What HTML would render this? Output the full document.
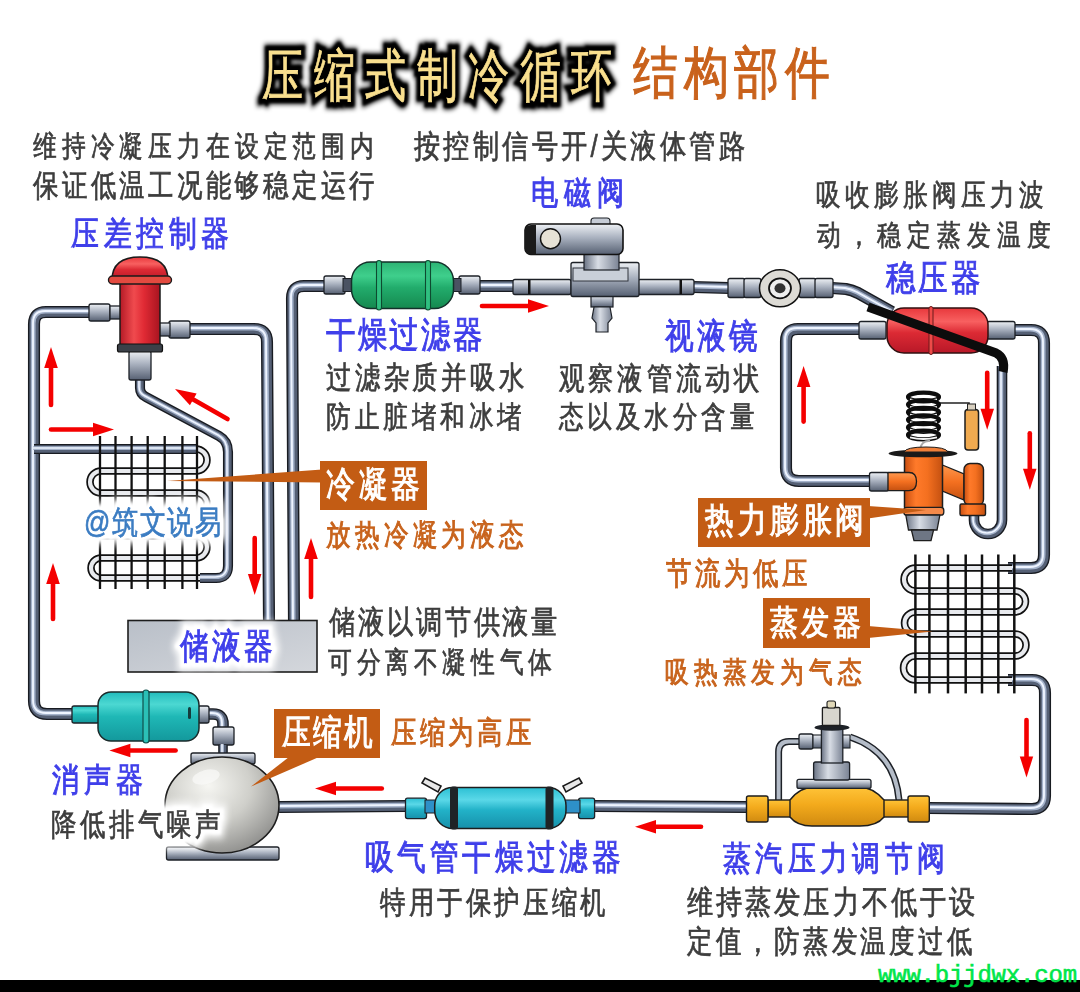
<!DOCTYPE html>
<html><head><meta charset="utf-8"><style>
html,body{margin:0;padding:0;background:#fff;width:1080px;height:992px;overflow:hidden;position:relative}
.t{position:absolute;white-space:nowrap;line-height:1;font-family:"Liberation Sans",sans-serif;transform-origin:0 0}
svg{position:absolute;left:0;top:0}
.lb{position:absolute;background:#c35c14}
</style></head><body>
<svg width="1080" height="992" viewBox="0 0 1080 992"><defs>
<linearGradient id="gMetal" x1="0" y1="0" x2="0" y2="1"><stop offset="0" stop-color="#eef1f5"/><stop offset="0.45" stop-color="#a9b1bf"/><stop offset="1" stop-color="#566072"/></linearGradient>
<linearGradient id="gMetalH" x1="0" y1="0" x2="1" y2="0"><stop offset="0" stop-color="#6a7384"/><stop offset="0.4" stop-color="#d8dde5"/><stop offset="1" stop-color="#7a8394"/></linearGradient>
<linearGradient id="gGreen" x1="0" y1="0" x2="0" y2="1"><stop offset="0" stop-color="#2cb474"/><stop offset="0.3" stop-color="#3fcf8c"/><stop offset="0.55" stop-color="#22ac6c"/><stop offset="1" stop-color="#15894f"/></linearGradient>
<linearGradient id="gRed" x1="0" y1="0" x2="0" y2="1"><stop offset="0" stop-color="#e8383c"/><stop offset="0.3" stop-color="#f86060"/><stop offset="0.55" stop-color="#dc2a34"/><stop offset="1" stop-color="#b81828"/></linearGradient>
<linearGradient id="gRedH" x1="0" y1="0" x2="1" y2="0"><stop offset="0" stop-color="#b41a26"/><stop offset="0.35" stop-color="#f04a4e"/><stop offset="0.6" stop-color="#e02a34"/><stop offset="1" stop-color="#a81420"/></linearGradient>
<linearGradient id="gTeal" x1="0" y1="0" x2="0" y2="1"><stop offset="0" stop-color="#22bcbc"/><stop offset="0.25" stop-color="#4cd8d2"/><stop offset="0.5" stop-color="#1fb8b6"/><stop offset="1" stop-color="#13989c"/></linearGradient>
<linearGradient id="gCyan" x1="0" y1="0" x2="0" y2="1"><stop offset="0" stop-color="#2cc0d4"/><stop offset="0.3" stop-color="#5ad8e8"/><stop offset="0.55" stop-color="#22b2c8"/><stop offset="1" stop-color="#1790aa"/></linearGradient>
<linearGradient id="gOrange" x1="0" y1="0" x2="1" y2="0"><stop offset="0" stop-color="#c84e10"/><stop offset="0.3" stop-color="#ff7a2a"/><stop offset="0.6" stop-color="#f47020"/><stop offset="1" stop-color="#c45010"/></linearGradient>
<linearGradient id="gOrangeV" x1="0" y1="0" x2="0" y2="1"><stop offset="0" stop-color="#ff9a50"/><stop offset="0.5" stop-color="#f47020"/><stop offset="1" stop-color="#c45010"/></linearGradient>
<linearGradient id="gYellow" x1="0" y1="0" x2="0" y2="1"><stop offset="0" stop-color="#ffc438"/><stop offset="0.45" stop-color="#f3aa1c"/><stop offset="1" stop-color="#d08a10"/></linearGradient>
<radialGradient id="gSphere" cx="0.38" cy="0.3" r="0.75"><stop offset="0" stop-color="#f6f6f2"/><stop offset="0.5" stop-color="#cfcfca"/><stop offset="1" stop-color="#8e8e8c"/></radialGradient>
<linearGradient id="gBox" x1="0" y1="0" x2="1" y2="1"><stop offset="0" stop-color="#b9bfc8"/><stop offset="1" stop-color="#d4d7dc"/></linearGradient>
</defs><path d="M90,312 L46,312 Q34,312 34,324 L34,701 Q34,714 47,714 L73,714" fill="none" stroke="#181b21" stroke-width="12.1" stroke-linecap="butt" stroke-linejoin="round"/><path d="M90,312 L46,312 Q34,312 34,324 L34,701 Q34,714 47,714 L73,714" fill="none" stroke="#556075" stroke-width="9.3" stroke-linejoin="round"/><path d="M90,312 L46,312 Q34,312 34,324 L34,701 Q34,714 47,714 L73,714" fill="none" stroke="#a4b2ca" stroke-width="4.7250000000000005" stroke-linejoin="round" transform="translate(-0.8,-0.8)"/><path d="M90,312 L46,312 Q34,312 34,324 L34,701 Q34,714 47,714 L73,714" fill="none" stroke="#eef4ff" stroke-width="1.89" stroke-linejoin="round" transform="translate(-1,-1)"/><path d="M34,449 L198,449" fill="none" stroke="#181b21" stroke-width="10.1" stroke-linecap="butt" stroke-linejoin="round"/><path d="M34,449 L198,449" fill="none" stroke="#556075" stroke-width="7.3" stroke-linejoin="round"/><path d="M34,449 L198,449" fill="none" stroke="#a4b2ca" stroke-width="3.825" stroke-linejoin="round" transform="translate(-0.8,-0.8)"/><path d="M34,449 L198,449" fill="none" stroke="#eef4ff" stroke-width="1.53" stroke-linejoin="round" transform="translate(-1,-1)"/><path d="M189,329 L254,329 Q267,329 267,342 L269,621" fill="none" stroke="#181b21" stroke-width="12.1" stroke-linecap="butt" stroke-linejoin="round"/><path d="M189,329 L254,329 Q267,329 267,342 L269,621" fill="none" stroke="#556075" stroke-width="9.3" stroke-linejoin="round"/><path d="M189,329 L254,329 Q267,329 267,342 L269,621" fill="none" stroke="#a4b2ca" stroke-width="4.7250000000000005" stroke-linejoin="round" transform="translate(-0.8,-0.8)"/><path d="M189,329 L254,329 Q267,329 267,342 L269,621" fill="none" stroke="#eef4ff" stroke-width="1.89" stroke-linejoin="round" transform="translate(-1,-1)"/><path d="M294,621 L292,298 Q292,286 304,286 L325,286" fill="none" stroke="#181b21" stroke-width="12.1" stroke-linecap="butt" stroke-linejoin="round"/><path d="M294,621 L292,298 Q292,286 304,286 L325,286" fill="none" stroke="#556075" stroke-width="9.3" stroke-linejoin="round"/><path d="M294,621 L292,298 Q292,286 304,286 L325,286" fill="none" stroke="#a4b2ca" stroke-width="4.7250000000000005" stroke-linejoin="round" transform="translate(-0.8,-0.8)"/><path d="M294,621 L292,298 Q292,286 304,286 L325,286" fill="none" stroke="#eef4ff" stroke-width="1.89" stroke-linejoin="round" transform="translate(-1,-1)"/><path d="M479,286 L514,286" fill="none" stroke="#181b21" stroke-width="12.1" stroke-linecap="butt" stroke-linejoin="round"/><path d="M479,286 L514,286" fill="none" stroke="#556075" stroke-width="9.3" stroke-linejoin="round"/><path d="M479,286 L514,286" fill="none" stroke="#a4b2ca" stroke-width="4.7250000000000005" stroke-linejoin="round" transform="translate(-0.8,-0.8)"/><path d="M479,286 L514,286" fill="none" stroke="#eef4ff" stroke-width="1.89" stroke-linejoin="round" transform="translate(-1,-1)"/><path d="M693,287 L729,288" fill="none" stroke="#181b21" stroke-width="12.1" stroke-linecap="butt" stroke-linejoin="round"/><path d="M693,287 L729,288" fill="none" stroke="#556075" stroke-width="9.3" stroke-linejoin="round"/><path d="M693,287 L729,288" fill="none" stroke="#a4b2ca" stroke-width="4.7250000000000005" stroke-linejoin="round" transform="translate(-0.8,-0.8)"/><path d="M693,287 L729,288" fill="none" stroke="#eef4ff" stroke-width="1.89" stroke-linejoin="round" transform="translate(-1,-1)"/><path d="M832,288 L846,289 Q852,290 858,293 L892,312" fill="none" stroke="#181b21" stroke-width="12.1" stroke-linecap="butt" stroke-linejoin="round"/><path d="M832,288 L846,289 Q852,290 858,293 L892,312" fill="none" stroke="#556075" stroke-width="9.3" stroke-linejoin="round"/><path d="M832,288 L846,289 Q852,290 858,293 L892,312" fill="none" stroke="#a4b2ca" stroke-width="4.7250000000000005" stroke-linejoin="round" transform="translate(-0.8,-0.8)"/><path d="M832,288 L846,289 Q852,290 858,293 L892,312" fill="none" stroke="#eef4ff" stroke-width="1.89" stroke-linejoin="round" transform="translate(-1,-1)"/><path d="M860,329 L798,329 Q786,329 786,341 L786,468 Q786,481 799,481 L871,481" fill="none" stroke="#181b21" stroke-width="12.1" stroke-linecap="butt" stroke-linejoin="round"/><path d="M860,329 L798,329 Q786,329 786,341 L786,468 Q786,481 799,481 L871,481" fill="none" stroke="#556075" stroke-width="9.3" stroke-linejoin="round"/><path d="M860,329 L798,329 Q786,329 786,341 L786,468 Q786,481 799,481 L871,481" fill="none" stroke="#a4b2ca" stroke-width="4.7250000000000005" stroke-linejoin="round" transform="translate(-0.8,-0.8)"/><path d="M860,329 L798,329 Q786,329 786,341 L786,468 Q786,481 799,481 L871,481" fill="none" stroke="#eef4ff" stroke-width="1.89" stroke-linejoin="round" transform="translate(-1,-1)"/><path d="M1014,330 L1031,330 Q1044,330 1044,343 L1044,555 Q1044,568 1031,568 L1008,568" fill="none" stroke="#181b21" stroke-width="12.1" stroke-linecap="butt" stroke-linejoin="round"/><path d="M1014,330 L1031,330 Q1044,330 1044,343 L1044,555 Q1044,568 1031,568 L1008,568" fill="none" stroke="#556075" stroke-width="9.3" stroke-linejoin="round"/><path d="M1014,330 L1031,330 Q1044,330 1044,343 L1044,555 Q1044,568 1031,568 L1008,568" fill="none" stroke="#a4b2ca" stroke-width="4.7250000000000005" stroke-linejoin="round" transform="translate(-0.8,-0.8)"/><path d="M1014,330 L1031,330 Q1044,330 1044,343 L1044,555 Q1044,568 1031,568 L1008,568" fill="none" stroke="#eef4ff" stroke-width="1.89" stroke-linejoin="round" transform="translate(-1,-1)"/><path d="M1008,680 L1032,680 Q1045,680 1045,693 L1045,796 Q1045,809 1032,809 L928,808" fill="none" stroke="#181b21" stroke-width="12.1" stroke-linecap="butt" stroke-linejoin="round"/><path d="M1008,680 L1032,680 Q1045,680 1045,693 L1045,796 Q1045,809 1032,809 L928,808" fill="none" stroke="#556075" stroke-width="9.3" stroke-linejoin="round"/><path d="M1008,680 L1032,680 Q1045,680 1045,693 L1045,796 Q1045,809 1032,809 L928,808" fill="none" stroke="#a4b2ca" stroke-width="4.7250000000000005" stroke-linejoin="round" transform="translate(-0.8,-0.8)"/><path d="M1008,680 L1032,680 Q1045,680 1045,693 L1045,796 Q1045,809 1032,809 L928,808" fill="none" stroke="#eef4ff" stroke-width="1.89" stroke-linejoin="round" transform="translate(-1,-1)"/><path d="M747,807 L593,806" fill="none" stroke="#181b21" stroke-width="12.1" stroke-linecap="butt" stroke-linejoin="round"/><path d="M747,807 L593,806" fill="none" stroke="#556075" stroke-width="9.3" stroke-linejoin="round"/><path d="M747,807 L593,806" fill="none" stroke="#a4b2ca" stroke-width="4.7250000000000005" stroke-linejoin="round" transform="translate(-0.8,-0.8)"/><path d="M747,807 L593,806" fill="none" stroke="#eef4ff" stroke-width="1.89" stroke-linejoin="round" transform="translate(-1,-1)"/><path d="M406,806 L279,807" fill="none" stroke="#181b21" stroke-width="12.1" stroke-linecap="butt" stroke-linejoin="round"/><path d="M406,806 L279,807" fill="none" stroke="#556075" stroke-width="9.3" stroke-linejoin="round"/><path d="M406,806 L279,807" fill="none" stroke="#a4b2ca" stroke-width="4.7250000000000005" stroke-linejoin="round" transform="translate(-0.8,-0.8)"/><path d="M406,806 L279,807" fill="none" stroke="#eef4ff" stroke-width="1.89" stroke-linejoin="round" transform="translate(-1,-1)"/><path d="M140,379 L140,388 Q140,394 146,397 L219,436 Q228,441 228,452 L228,566 Q228,578 216,578 L200,578" fill="none" stroke="#181b21" stroke-width="10.1" stroke-linecap="butt" stroke-linejoin="round"/><path d="M140,379 L140,388 Q140,394 146,397 L219,436 Q228,441 228,452 L228,566 Q228,578 216,578 L200,578" fill="none" stroke="#556075" stroke-width="7.3" stroke-linejoin="round"/><path d="M140,379 L140,388 Q140,394 146,397 L219,436 Q228,441 228,452 L228,566 Q228,578 216,578 L200,578" fill="none" stroke="#a4b2ca" stroke-width="3.825" stroke-linejoin="round" transform="translate(-0.8,-0.8)"/><path d="M140,379 L140,388 Q140,394 146,397 L219,436 Q228,441 228,452 L228,566 Q228,578 216,578 L200,578" fill="none" stroke="#eef4ff" stroke-width="1.53" stroke-linejoin="round" transform="translate(-1,-1)"/><path d="M974,514 L974,520 A14,14 0 0 0 1002,520 L1002,366" fill="none" stroke="#181b21" stroke-width="10.6" stroke-linecap="butt" stroke-linejoin="round"/><path d="M974,514 L974,520 A14,14 0 0 0 1002,520 L1002,366" fill="none" stroke="#556075" stroke-width="7.8" stroke-linejoin="round"/><path d="M974,514 L974,520 A14,14 0 0 0 1002,520 L1002,366" fill="none" stroke="#a4b2ca" stroke-width="4.05" stroke-linejoin="round" transform="translate(-0.8,-0.8)"/><path d="M974,514 L974,520 A14,14 0 0 0 1002,520 L1002,366" fill="none" stroke="#eef4ff" stroke-width="1.6199999999999999" stroke-linejoin="round" transform="translate(-1,-1)"/><path d="M207,714 L213,714 Q223,714 223,724 L223,730" fill="none" stroke="#181b21" stroke-width="11.6" stroke-linecap="butt" stroke-linejoin="round"/><path d="M207,714 L213,714 Q223,714 223,724 L223,730" fill="none" stroke="#556075" stroke-width="8.8" stroke-linejoin="round"/><path d="M207,714 L213,714 Q223,714 223,724 L223,730" fill="none" stroke="#a4b2ca" stroke-width="4.5" stroke-linejoin="round" transform="translate(-0.8,-0.8)"/><path d="M207,714 L213,714 Q223,714 223,724 L223,730" fill="none" stroke="#eef4ff" stroke-width="1.7999999999999998" stroke-linejoin="round" transform="translate(-1,-1)"/><rect x="213" y="727" width="21" height="18" rx="2" fill="url(#gMetal)" stroke="#1d2127" stroke-width="1.3"/><path d="M223,745 L223,755" fill="none" stroke="#181b21" stroke-width="9.6" stroke-linecap="butt" stroke-linejoin="round"/><path d="M223,745 L223,755" fill="none" stroke="#556075" stroke-width="6.8" stroke-linejoin="round"/><path d="M223,745 L223,755" fill="none" stroke="#a4b2ca" stroke-width="3.6" stroke-linejoin="round" transform="translate(-0.8,-0.8)"/><path d="M223,745 L223,755" fill="none" stroke="#eef4ff" stroke-width="1.44" stroke-linejoin="round" transform="translate(-1,-1)"/><path d="M196,449 A11,11 0 0 1 196,471 L101,471 A11,11 0 0 0 101,493 L196,493 A11,11 0 0 1 196,515 L101,515 A10.5,10.5 0 0 0 101,536 L196,536 A11,11 0 0 1 196,558 L101,558 A10,10 0 0 0 101,578 L200,578" fill="none" stroke="#111" stroke-width="7.5" stroke-linejoin="round"/><path d="M196,449 A11,11 0 0 1 196,471 L101,471 A11,11 0 0 0 101,493 L196,493 A11,11 0 0 1 196,515 L101,515 A10.5,10.5 0 0 0 101,536 L196,536 A11,11 0 0 1 196,558 L101,558 A10,10 0 0 0 101,578 L200,578" fill="none" stroke="#e8eaee" stroke-width="4.1" stroke-linejoin="round"/><line x1="100" y1="436" x2="100" y2="589" stroke="#111" stroke-width="2.3"/><line x1="115.5" y1="436" x2="115.5" y2="589" stroke="#111" stroke-width="2.3"/><line x1="131.6" y1="436" x2="131.6" y2="589" stroke="#111" stroke-width="2.3"/><line x1="147.7" y1="436" x2="147.7" y2="589" stroke="#111" stroke-width="2.3"/><line x1="164.7" y1="436" x2="164.7" y2="589" stroke="#111" stroke-width="2.3"/><line x1="182.4" y1="436" x2="182.4" y2="589" stroke="#111" stroke-width="2.3"/><line x1="197" y1="436" x2="197" y2="589" stroke="#111" stroke-width="2.3"/><rect x="128" y="620.5" width="189" height="51.5" fill="url(#gBox)" stroke="#1d1d1d" stroke-width="1.6"/><rect x="89" y="304" width="21" height="17" rx="2" fill="url(#gMetal)" stroke="#1d2127" stroke-width="1.3"/><rect x="169" y="321" width="21" height="17" rx="2" fill="url(#gMetal)" stroke="#1d2127" stroke-width="1.3"/><rect x="110" y="306" width="12" height="13" rx="0" fill="url(#gMetal)" stroke="#1d2127" stroke-width="1.3"/><rect x="158" y="323" width="12" height="13" rx="0" fill="url(#gMetal)" stroke="#1d2127" stroke-width="1.3"/><rect x="129" y="351" width="22" height="29" rx="2" fill="url(#gMetal)" stroke="#1d2127" stroke-width="1.3"/><rect x="120" y="281" width="40" height="68" fill="url(#gRedH)" stroke="#1a1a1a" stroke-width="1.5"/><rect x="117.5" y="344" width="45" height="8" rx="2" fill="#3b4048" stroke="#111" stroke-width="1.2"/><path d="M112,280 Q112,257 140,257 Q168,257 168,280 Z" fill="url(#gRed)" stroke="#1a1a1a" stroke-width="1.5"/><rect x="108.5" y="276" width="63" height="8" rx="4" fill="#e34a40" stroke="#1a1a1a" stroke-width="1.4"/><rect x="72" y="706" width="27" height="17" rx="2" fill="url(#gTeal)" stroke="#1d2127" stroke-width="1.3"/><rect x="198" y="706" width="11" height="17" rx="2" fill="url(#gMetal)" stroke="#1d2127" stroke-width="1.3"/><rect x="98" y="692" width="101" height="49" rx="13" fill="url(#gTeal)" stroke="#1a2a2a" stroke-width="1.5"/><rect x="143" y="690" width="6" height="53" rx="3" fill="#2bc0b6" stroke="#10504c" stroke-width="1.2"/><rect x="188" y="707" width="3" height="12" rx="1.5" fill="#153c3c"/><rect x="191" y="753" width="64" height="11" rx="2" fill="url(#gMetal)" stroke="#1d2127" stroke-width="1.3"/><rect x="166.5" y="847" width="112.5" height="13" rx="2" fill="url(#gMetal)" stroke="#1d2127" stroke-width="1.3"/><ellipse cx="222" cy="805" rx="57" ry="48" fill="url(#gSphere)" stroke="#1d1d1d" stroke-width="1.6"/><ellipse cx="206" cy="777" rx="14" ry="7" fill="#fafaf8" opacity="0.7" transform="rotate(-15 206 777)"/><rect x="324" y="276" width="21" height="18" rx="2" fill="url(#gMetal)" stroke="#1d2127" stroke-width="1.3"/><rect x="459" y="276" width="21" height="18" rx="2" fill="url(#gMetal)" stroke="#1d2127" stroke-width="1.3"/><rect x="343" y="278.5" width="10" height="13" fill="#4a5262" stroke="#1d2127" stroke-width="1"/><rect x="451" y="278.5" width="10" height="13" fill="#4a5262" stroke="#1d2127" stroke-width="1"/><rect x="351.5" y="262" width="102" height="46.5" rx="19" fill="url(#gGreen)" stroke="#14302a" stroke-width="1.5"/><rect x="376.5" y="260.5" width="5" height="49.5" rx="2.5" fill="#30c080" stroke="#0e4a30" stroke-width="1.1"/><rect x="425.5" y="260.5" width="5" height="49.5" rx="2.5" fill="#30c080" stroke="#0e4a30" stroke-width="1.1"/><rect x="513" y="279.5" width="58" height="15" rx="2" fill="url(#gMetal)" stroke="#1d2127" stroke-width="1.3"/><rect x="638" y="279.5" width="56" height="15" rx="2" fill="url(#gMetal)" stroke="#1d2127" stroke-width="1.3"/><rect x="528" y="280" width="2.5" height="14" fill="#111"/><rect x="679.5" y="280" width="2.5" height="14" fill="#111"/><rect x="591" y="295" width="22" height="12" fill="url(#gMetal)" stroke="#1d2127" stroke-width="1.2"/><path d="M594,307 L610,307 L612,318 L608,323 L608,332 L596,332 L596,323 L592,318 Z" fill="url(#gMetalH)" stroke="#1d2127" stroke-width="1.2"/><rect x="571" y="262.5" width="68" height="34" rx="2" fill="url(#gMetal)" stroke="#1d2127" stroke-width="1.3"/><rect x="573" y="268" width="55" height="13" fill="#c9cfd8" stroke="#30353d" stroke-width="1"/><rect x="584" y="250" width="35" height="20" fill="url(#gMetalH)" stroke="#1d2127" stroke-width="1.2"/><rect x="591" y="218" width="19" height="9" rx="3" fill="#c6ccd6" stroke="#1d2127" stroke-width="1.1"/><rect x="525" y="224" width="98" height="30.5" rx="6" fill="url(#gMetal)" stroke="#111" stroke-width="1.6"/><path d="M531,225 Q525,225 525,231 L525,248 Q525,254.5 531,254.5 L536,254.5 L536,225 Z" fill="#1a1a1a"/><circle cx="550.5" cy="238.7" r="10" fill="#e6e2d6" stroke="#111" stroke-width="1.4"/><rect x="728" y="278.5" width="17" height="19" rx="2" fill="url(#gMetal)" stroke="#1d2127" stroke-width="1.3"/><rect x="744" y="278.5" width="17" height="19" rx="2" fill="url(#gMetal)" stroke="#1d2127" stroke-width="1.3"/><rect x="799" y="278.5" width="17" height="19" rx="2" fill="url(#gMetal)" stroke="#1d2127" stroke-width="1.3"/><rect x="815" y="278.5" width="18" height="19" rx="2" fill="url(#gMetal)" stroke="#1d2127" stroke-width="1.3"/><ellipse cx="780" cy="288.3" rx="20.5" ry="18.5" fill="#dddbd5" stroke="#111" stroke-width="1.5"/><ellipse cx="780" cy="288.3" rx="11" ry="10" fill="#eee" stroke="#111" stroke-width="1.8"/><ellipse cx="780" cy="288.3" rx="5.5" ry="5" fill="#333"/><rect x="859" y="321.5" width="27" height="17.5" rx="2" fill="url(#gMetal)" stroke="#1d2127" stroke-width="1.3"/><rect x="987" y="321.5" width="28" height="17.5" rx="2" fill="url(#gMetal)" stroke="#1d2127" stroke-width="1.3"/><rect x="887" y="308" width="101" height="45" rx="17" fill="url(#gRed)" stroke="#301010" stroke-width="1.5"/><rect x="929" y="306.5" width="4" height="48" rx="2" fill="#ee4a48" stroke="#6a1a1a" stroke-width="1"/><path d="M868,307 L996,353 Q1006,358 1003,372" fill="none" stroke="#0c0c0c" stroke-width="9" stroke-linecap="butt"/><path d="M937,403 L969,403 L969,410" fill="none" stroke="#222" stroke-width="1.6"/><rect x="965" y="409.5" width="13.5" height="40.5" rx="3" fill="#f0aa50" stroke="#1d1d1d" stroke-width="1.5"/><rect x="967.5" y="404" width="8" height="6" fill="#d8d0c0" stroke="#222" stroke-width="1"/><ellipse cx="923.5" cy="397.0" rx="15.5" ry="4.4" fill="none" stroke="#0d0d0d" stroke-width="4.2"/><path d="M910,399.4 Q923.5,402.6 937,399.4" fill="none" stroke="#f4f4f4" stroke-width="2"/><ellipse cx="923.5" cy="404.6" rx="15.5" ry="4.4" fill="none" stroke="#0d0d0d" stroke-width="4.2"/><path d="M910,407.0 Q923.5,410.20000000000005 937,407.0" fill="none" stroke="#f4f4f4" stroke-width="2"/><ellipse cx="923.5" cy="412.2" rx="15.5" ry="4.4" fill="none" stroke="#0d0d0d" stroke-width="4.2"/><path d="M910,414.59999999999997 Q923.5,417.8 937,414.59999999999997" fill="none" stroke="#f4f4f4" stroke-width="2"/><ellipse cx="923.5" cy="419.8" rx="15.5" ry="4.4" fill="none" stroke="#0d0d0d" stroke-width="4.2"/><path d="M910,422.2 Q923.5,425.40000000000003 937,422.2" fill="none" stroke="#f4f4f4" stroke-width="2"/><ellipse cx="923.5" cy="427.4" rx="15.5" ry="4.4" fill="none" stroke="#0d0d0d" stroke-width="4.2"/><path d="M910,429.79999999999995 Q923.5,433.0 937,429.79999999999995" fill="none" stroke="#f4f4f4" stroke-width="2"/><ellipse cx="923.5" cy="435.0" rx="15.5" ry="4.4" fill="none" stroke="#0d0d0d" stroke-width="4.2"/><path d="M910,437.4 Q923.5,440.6 937,437.4" fill="none" stroke="#f4f4f4" stroke-width="2"/><path d="M920,449 Q922,440 930,441" fill="none" stroke="#aaa" stroke-width="2"/><rect x="869.5" y="472.5" width="19" height="18.5" rx="2" fill="url(#gMetal)" stroke="#1d2127" stroke-width="1.3"/><path d="M940,464 L964,474 L964,500 L940,490 Z" fill="url(#gOrangeV)" stroke="#1d1d1d" stroke-width="1.3"/><rect x="964" y="463.5" width="19.5" height="42" rx="6" fill="url(#gOrange)" stroke="#1d1d1d" stroke-width="1.4"/><rect x="960" y="504" width="25.5" height="11.5" rx="1.5" fill="url(#gOrange)" stroke="#1d1d1d" stroke-width="1.4"/><rect x="904.5" y="455" width="38" height="54" rx="2" fill="url(#gOrange)" stroke="#1d1d1d" stroke-width="1.5"/><rect x="903.8" y="507.4" width="40" height="7.8" rx="3" fill="#f58a4a" stroke="#1d1d1d" stroke-width="1.3"/><path d="M905.8,515 L939.9,515 L937,530 L908.5,530 Z" fill="url(#gMetalH)" stroke="#1d1d1d" stroke-width="1.3"/><path d="M911.4,530 L933.6,530 L931,540.7 L914,540.7 Z" fill="#6e7684" stroke="#1d1d1d" stroke-width="1.3"/><ellipse cx="923" cy="453.5" rx="34.5" ry="3.8" fill="#1a1a1a"/><path d="M888,472.5 L909,472.5 Q916.5,472.5 916.5,481.5 Q916.5,490.7 909,490.7 L888,490.7 Z" fill="url(#gOrangeV)" stroke="#1d1d1d" stroke-width="1.3"/><path d="M904,452 Q906,447 926,447 Q946,447 948,452 Z" fill="#f0803a" stroke="#1d1d1d" stroke-width="1"/><path d="M1012,568 L915.5,568 A11.5,11.5 0 0 0 915.5,591 L1015,591 A10.5,10.5 0 0 1 1015,612 L915.5,612 A11,11 0 0 0 915.5,634 L1015,634 A11,11 0 0 1 1015,656 L915.5,656 A12,12 0 0 0 915.5,680 L1012,680" fill="none" stroke="#111" stroke-width="7.5" stroke-linejoin="round"/><path d="M1012,568 L915.5,568 A11.5,11.5 0 0 0 915.5,591 L1015,591 A10.5,10.5 0 0 1 1015,612 L915.5,612 A11,11 0 0 0 915.5,634 L1015,634 A11,11 0 0 1 1015,656 L915.5,656 A12,12 0 0 0 915.5,680 L1012,680" fill="none" stroke="#e8eaee" stroke-width="4.1" stroke-linejoin="round"/><line x1="915.4" y1="554.5" x2="915.4" y2="693.4" stroke="#111" stroke-width="2.5"/><line x1="929.4" y1="554.5" x2="929.4" y2="693.4" stroke="#111" stroke-width="2.5"/><line x1="948" y1="554.5" x2="948" y2="693.4" stroke="#111" stroke-width="2.5"/><line x1="965.7" y1="554.5" x2="965.7" y2="693.4" stroke="#111" stroke-width="2.5"/><line x1="982" y1="554.5" x2="982" y2="693.4" stroke="#111" stroke-width="2.5"/><line x1="998.3" y1="554.5" x2="998.3" y2="693.4" stroke="#111" stroke-width="2.5"/><line x1="1014.3" y1="554.5" x2="1014.3" y2="693.4" stroke="#111" stroke-width="2.5"/><path d="M778.6,800 L778.6,752 Q778.6,741.5 789,741.5 L800,741.5" fill="none" stroke="#1d2127" stroke-width="7"/><path d="M778.6,800 L778.6,752 Q778.6,741.5 789,741.5 L800,741.5" fill="none" stroke="#b4bcc8" stroke-width="4"/><path d="M850,737 Q895,752 899,800" fill="none" stroke="#1d2127" stroke-width="7"/><path d="M850,737 Q895,752 899,800" fill="none" stroke="#b4bcc8" stroke-width="4"/><rect x="799" y="734" width="14" height="15" rx="2" fill="url(#gMetal)" stroke="#1d2127" stroke-width="1.3"/><rect x="813" y="735" width="37" height="13" fill="url(#gMetal)" stroke="#1d2127" stroke-width="1.1"/><rect x="768" y="800" width="144" height="17" fill="url(#gYellow)" stroke="#1d1d1d" stroke-width="1.4"/><path d="M790,800 Q800,787 815,787 L858,787 Q873,787 884,800 L884,817 Q877,826 860,826 L812,826 Q797,826 790,817 Z" fill="url(#gYellow)" stroke="#1d1d1d" stroke-width="1.4"/><rect x="746.5" y="796" width="21.5" height="26" rx="2" fill="url(#gYellow)" stroke="#1d1d1d" stroke-width="1.4"/><rect x="908" y="796" width="21.3" height="26" rx="2" fill="url(#gYellow)" stroke="#1d1d1d" stroke-width="1.4"/><rect x="797" y="779.4" width="74" height="9" rx="2" fill="url(#gMetal)" stroke="#1d2127" stroke-width="1.3"/><rect x="813.6" y="762" width="36" height="18" rx="2" fill="url(#gMetalH)" stroke="#1d2127" stroke-width="1.3"/><rect x="821.4" y="729" width="21.4" height="34" fill="url(#gMetalH)" stroke="#1d2127" stroke-width="1.3"/><ellipse cx="832" cy="727.5" rx="17.5" ry="3.2" fill="#1d2127"/><rect x="822.4" y="707.5" width="17.5" height="18" rx="1" fill="#d8d6ce" stroke="#1d1d1d" stroke-width="1.3"/><rect x="827" y="701" width="8.5" height="7" rx="2" fill="#e0d8b8" stroke="#1d1d1d" stroke-width="1.1"/><rect x="405.5" y="798.2" width="21" height="20.4" rx="2" fill="url(#gCyan)" stroke="#1d2127" stroke-width="1.3"/><rect x="578.6" y="798.2" width="16" height="20.4" rx="2" fill="url(#gCyan)" stroke="#1d2127" stroke-width="1.3"/><rect x="425" y="800" width="12" height="13" fill="#2e90c8" stroke="#1d1d1d" stroke-width="1"/><rect x="564" y="800" width="16" height="13" fill="#2e90c8" stroke="#1d1d1d" stroke-width="1"/><path d="M422,783 L425,778 L441,786 L438,792 Z" fill="#e8e8e8" stroke="#1a1a1a" stroke-width="1.6"/><path d="M579,778 L582,783 L566,792 L563,786 Z" fill="#e8e8e8" stroke="#1a1a1a" stroke-width="1.6"/><rect x="434.7" y="787.5" width="131.3" height="41" rx="18" fill="url(#gCyan)" stroke="#1d1d1d" stroke-width="1.5"/><rect x="450" y="786.5" width="8" height="43" rx="3" fill="#1f2326"/><rect x="545.5" y="786.5" width="8" height="43" rx="3" fill="#1f2326"/><line x1="51" y1="405" x2="51.0" y2="366.0" stroke="#f40000" stroke-width="4.6" stroke-linecap="round"/><polygon points="51,347 57.8,368.0 44.2,368.0" fill="#f40000"/><line x1="51" y1="429.5" x2="95.0" y2="429.5" stroke="#f40000" stroke-width="4.6" stroke-linecap="round"/><polygon points="114,429.5 93.0,436.2 93.0,422.8" fill="#f40000"/><line x1="227.5" y1="419" x2="191.5" y2="398.4" stroke="#f40000" stroke-width="4.6" stroke-linecap="round"/><polygon points="175,389 196.6,393.6 189.9,405.3" fill="#f40000"/><line x1="53" y1="619" x2="53.0" y2="582.0" stroke="#f40000" stroke-width="4.6" stroke-linecap="round"/><polygon points="53,563 59.8,584.0 46.2,584.0" fill="#f40000"/><line x1="254.7" y1="538" x2="254.7" y2="576.0" stroke="#f40000" stroke-width="4.6" stroke-linecap="round"/><polygon points="254.7,595 247.9,574.0 261.4,574.0" fill="#f40000"/><line x1="311" y1="597" x2="311.0" y2="557.0" stroke="#f40000" stroke-width="4.6" stroke-linecap="round"/><polygon points="311,538 317.8,559.0 304.2,559.0" fill="#f40000"/><line x1="482" y1="306" x2="530.0" y2="306.0" stroke="#f40000" stroke-width="4.6" stroke-linecap="round"/><polygon points="549,306 528.0,312.8 528.0,299.2" fill="#f40000"/><line x1="803.6" y1="421.6" x2="803.6" y2="385.0" stroke="#f40000" stroke-width="4.6" stroke-linecap="round"/><polygon points="803.6,366 810.4,387.0 796.9,387.0" fill="#f40000"/><line x1="987.2" y1="372.7" x2="987.2" y2="410.8" stroke="#f40000" stroke-width="4.6" stroke-linecap="round"/><polygon points="987.2,429.8 980.5,408.8 994.0,408.8" fill="#f40000"/><line x1="1029.8" y1="433.3" x2="1029.8" y2="470.8" stroke="#f40000" stroke-width="4.6" stroke-linecap="round"/><polygon points="1029.8,489.8 1023.0,468.8 1036.5,468.8" fill="#f40000"/><line x1="1026.5" y1="720" x2="1026.5" y2="758.5" stroke="#f40000" stroke-width="4.6" stroke-linecap="round"/><polygon points="1026.5,777.5 1019.8,756.5 1033.2,756.5" fill="#f40000"/><line x1="381.8" y1="788.5" x2="334.0" y2="788.5" stroke="#f40000" stroke-width="4.6" stroke-linecap="round"/><polygon points="315,788.5 336.0,781.8 336.0,795.2" fill="#f40000"/><line x1="701" y1="826.7" x2="654.0" y2="826.7" stroke="#f40000" stroke-width="4.6" stroke-linecap="round"/><polygon points="635,826.7 656.0,820.0 656.0,833.5" fill="#f40000"/><line x1="175.6" y1="750.5" x2="128.4" y2="750.5" stroke="#f40000" stroke-width="4.6" stroke-linecap="round"/><polygon points="109.4,750.5 130.4,743.8 130.4,757.2" fill="#f40000"/></svg>
<div class="t" style="left:262.38px;top:47.87px;font-size:56.63px;font-weight:normal;letter-spacing:14.54px;transform:scaleX(0.7200);color:#000;-webkit-text-stroke:13px #000;filter:blur(2.6px)">压缩式制冷循环</div><div class="t" style="left:262.38px;top:47.87px;font-size:56.63px;font-weight:normal;letter-spacing:14.54px;transform:scaleX(0.7200);color:#000;-webkit-text-stroke:10px #000;filter:blur(1.2px)">压缩式制冷循环</div><div class="t" style="left:262.38px;top:47.87px;font-size:56.63px;font-weight:normal;letter-spacing:14.54px;transform:scaleX(0.7200);color:#f9df8e;-webkit-text-stroke:0.8px #f9df8e">压缩式制冷循环</div>
<div class="t" style="left:632.55px;top:45.44px;font-size:55.92px;font-weight:normal;letter-spacing:7.23px;transform:scaleX(0.8000);color:#c9621c;-webkit-text-stroke:1.2px #c9621c;">结构部件</div>
<div class="t" style="left:33.16px;top:132.30px;font-size:29.20px;font-weight:normal;letter-spacing:6.15px;transform:scaleX(0.8200);color:#3d3d3d;-webkit-text-stroke:0.7px #3d3d3d;">维持冷凝压力在设定范围内</div>
<div class="t" style="left:33.40px;top:171.00px;font-size:30.91px;font-weight:normal;letter-spacing:4.08px;transform:scaleX(0.8200);color:#3d3d3d;-webkit-text-stroke:0.7px #3d3d3d;">保证低温工况能够稳定运行</div>
<div class="t" style="left:413.74px;top:131.38px;font-size:31.63px;font-weight:normal;letter-spacing:3.88px;transform:scaleX(0.8200);color:#3d3d3d;-webkit-text-stroke:0.7px #3d3d3d;">按控制信号开/关液体管路</div>
<div class="t" style="left:531.39px;top:175.70px;font-size:33.26px;font-weight:normal;letter-spacing:7.44px;transform:scaleX(0.8200);color:#3f3fea;-webkit-text-stroke:0.95px #3f3fea;">电磁阀</div>
<div class="t" style="left:71.17px;top:216.79px;font-size:33.75px;font-weight:normal;letter-spacing:5.74px;transform:scaleX(0.8200);color:#3f3fea;-webkit-text-stroke:0.95px #3f3fea;">压差控制器</div>
<div class="t" style="left:816.01px;top:180.09px;font-size:30.21px;font-weight:normal;letter-spacing:5.37px;transform:scaleX(0.8200);color:#3d3d3d;-webkit-text-stroke:0.7px #3d3d3d;">吸收膨胀阀压力波</div>
<div class="t" style="left:816.76px;top:221.00px;font-size:28.79px;font-weight:normal;letter-spacing:7.50px;transform:scaleX(0.8200);color:#3d3d3d;-webkit-text-stroke:0.7px #3d3d3d;">动，稳定蒸发温度</div>
<div class="t" style="left:885.71px;top:261.21px;font-size:35.87px;font-weight:normal;letter-spacing:3.37px;transform:scaleX(0.8200);color:#3f3fea;-webkit-text-stroke:0.95px #3f3fea;">稳压器</div>
<div class="t" style="left:326.41px;top:317.41px;font-size:36.28px;font-weight:normal;letter-spacing:2.70px;transform:scaleX(0.8200);color:#3f3fea;-webkit-text-stroke:0.95px #3f3fea;">干燥过滤器</div>
<div class="t" style="left:665.02px;top:318.15px;font-size:35.15px;font-weight:normal;letter-spacing:3.88px;transform:scaleX(0.8200);color:#3f3fea;-webkit-text-stroke:0.95px #3f3fea;">视液镜</div>
<div class="t" style="left:326.24px;top:362.69px;font-size:30.93px;font-weight:normal;letter-spacing:4.12px;transform:scaleX(0.8200);color:#3d3d3d;-webkit-text-stroke:0.7px #3d3d3d;">过滤杂质并吸水</div>
<div class="t" style="left:325.50px;top:401.30px;font-size:30.41px;font-weight:normal;letter-spacing:4.82px;transform:scaleX(0.8200);color:#3d3d3d;-webkit-text-stroke:0.7px #3d3d3d;">防止脏堵和冰堵</div>
<div class="t" style="left:558.75px;top:363.00px;font-size:30.61px;font-weight:normal;letter-spacing:4.58px;transform:scaleX(0.8200);color:#3d3d3d;-webkit-text-stroke:0.7px #3d3d3d;">观察液管流动状</div>
<div class="t" style="left:559.25px;top:400.99px;font-size:30.41px;font-weight:normal;letter-spacing:4.72px;transform:scaleX(0.8200);color:#3d3d3d;-webkit-text-stroke:0.7px #3d3d3d;">态以及水分含量</div>
<div class="t" style="left:325.76px;top:519.50px;font-size:30.20px;font-weight:normal;letter-spacing:5.19px;transform:scaleX(0.8200);color:#c8631c;-webkit-text-stroke:0.95px #c8631c;">放热冷凝为液态</div>
<div class="t" style="left:83.52px;top:506.68px;font-size:31.63px;font-weight:normal;letter-spacing:1.85px;transform:scaleX(0.8200);color:#fff;-webkit-text-stroke:16px #fff;filter:blur(4px)">@筑文说易</div><div class="t" style="left:83.52px;top:506.68px;font-size:31.63px;font-weight:normal;letter-spacing:1.85px;transform:scaleX(0.8200);color:#fff;-webkit-text-stroke:9px #fff;filter:blur(1.5px)">@筑文说易</div><div class="t" style="left:83.52px;top:506.68px;font-size:31.63px;font-weight:normal;letter-spacing:1.85px;transform:scaleX(0.8200);color:#3b7cc2;-webkit-text-stroke:0.7px #3b7cc2;">@筑文说易</div>
<div class="t" style="left:180.30px;top:628.35px;font-size:35.36px;font-weight:normal;letter-spacing:3.76px;transform:scaleX(0.8200);color:#fff;-webkit-text-stroke:16px #fff;filter:blur(4px)">储液器</div><div class="t" style="left:180.30px;top:628.35px;font-size:35.36px;font-weight:normal;letter-spacing:3.76px;transform:scaleX(0.8200);color:#fff;-webkit-text-stroke:9px #fff;filter:blur(1.5px)">储液器</div><div class="t" style="left:180.30px;top:628.35px;font-size:35.36px;font-weight:normal;letter-spacing:3.76px;transform:scaleX(0.8200);color:#3f3fea;-webkit-text-stroke:0.95px #3f3fea;">储液器</div>
<div class="t" style="left:328.60px;top:607.28px;font-size:31.55px;font-weight:normal;letter-spacing:3.26px;transform:scaleX(0.8200);color:#3d3d3d;-webkit-text-stroke:0.7px #3d3d3d;">储液以调节供液量</div>
<div class="t" style="left:328.12px;top:647.40px;font-size:29.29px;font-weight:normal;letter-spacing:5.86px;transform:scaleX(0.8200);color:#3d3d3d;-webkit-text-stroke:0.7px #3d3d3d;">可分离不凝性气体</div>
<div class="t" style="left:666.20px;top:557.80px;font-size:30.61px;font-weight:normal;letter-spacing:4.36px;transform:scaleX(0.8200);color:#c8631c;-webkit-text-stroke:0.95px #c8631c;">节流为低压</div>
<div class="t" style="left:665.04px;top:658.32px;font-size:29.19px;font-weight:normal;letter-spacing:6.16px;transform:scaleX(0.8200);color:#c8631c;-webkit-text-stroke:0.95px #c8631c;">吸热蒸发为气态</div>
<div class="t" style="left:390.93px;top:716.70px;font-size:31.43px;font-weight:normal;letter-spacing:3.95px;transform:scaleX(0.8200);color:#c8631c;-webkit-text-stroke:0.95px #c8631c;">压缩为高压</div>
<div class="t" style="left:51.86px;top:763.01px;font-size:33.05px;font-weight:normal;letter-spacing:6.15px;transform:scaleX(0.8200);color:#3f3fea;-webkit-text-stroke:0.95px #3f3fea;">消声器</div>
<div class="t" style="left:51.13px;top:810.07px;font-size:30.94px;font-weight:normal;letter-spacing:4.21px;transform:scaleX(0.8200);color:#fff;-webkit-text-stroke:16px #fff;filter:blur(4px)">降低排气噪声</div><div class="t" style="left:51.13px;top:810.07px;font-size:30.94px;font-weight:normal;letter-spacing:4.21px;transform:scaleX(0.8200);color:#fff;-webkit-text-stroke:9px #fff;filter:blur(1.5px)">降低排气噪声</div><div class="t" style="left:51.13px;top:810.07px;font-size:30.94px;font-weight:normal;letter-spacing:4.21px;transform:scaleX(0.8200);color:#3d3d3d;-webkit-text-stroke:0.7px #3d3d3d;">降低排气噪声</div>
<div class="t" style="left:365.16px;top:840.25px;font-size:34.84px;font-weight:normal;letter-spacing:4.50px;transform:scaleX(0.8200);color:#3f3fea;-webkit-text-stroke:0.95px #3f3fea;">吸气管干燥过滤器</div>
<div class="t" style="left:379.60px;top:887.49px;font-size:31.12px;font-weight:normal;letter-spacing:3.90px;transform:scaleX(0.8200);color:#3d3d3d;-webkit-text-stroke:0.7px #3d3d3d;">特用于保护压缩机</div>
<div class="t" style="left:722.74px;top:840.62px;font-size:34.12px;font-weight:normal;letter-spacing:5.44px;transform:scaleX(0.8200);color:#3f3fea;-webkit-text-stroke:0.95px #3f3fea;">蒸汽压力调节阀</div>
<div class="t" style="left:686.94px;top:887.48px;font-size:31.73px;font-weight:normal;letter-spacing:3.49px;transform:scaleX(0.8200);color:#3d3d3d;-webkit-text-stroke:0.7px #3d3d3d;">维持蒸发压力不低于设</div>
<div class="t" style="left:686.94px;top:926.30px;font-size:31.41px;font-weight:normal;letter-spacing:4.26px;transform:scaleX(0.8200);color:#3d3d3d;-webkit-text-stroke:0.7px #3d3d3d;">定值，防蒸发温度过低</div>
<svg width="1080" height="992" viewBox="0 0 1080 992"><polygon points="322,469.5 322,482.5 167,481" fill="#c35c14"/><polygon points="868,506 868,518.5 926,510" fill="#c35c14"/><polygon points="868,626 868,638 932.6,631.6" fill="#c35c14"/><polygon points="289,757 319,757 251,786.6" fill="#c35c14"/></svg>
<div class="lb" style="left:319.7px;top:460.8px;width:107.19999999999999px;height:48.89999999999998px"></div>
<div class="lb" style="left:698.4px;top:498.2px;width:171.60000000000002px;height:48.50000000000006px"></div>
<div class="lb" style="left:763.3px;top:598.4px;width:106.70000000000005px;height:49.39999999999998px"></div>
<div class="lb" style="left:273.6px;top:708.5px;width:106.89999999999998px;height:49.799999999999955px"></div>
<div class="t" style="left:325.86px;top:466.95px;font-size:34.85px;font-weight:normal;letter-spacing:4.79px;transform:scaleX(0.8200);color:#ffffff;-webkit-text-stroke:1.1px #ffffff;">冷凝器</div>
<div class="t" style="left:705.22px;top:503.36px;font-size:34.69px;font-weight:normal;letter-spacing:4.69px;transform:scaleX(0.8200);color:#ffffff;-webkit-text-stroke:1.1px #ffffff;">热力膨胀阀</div>
<div class="t" style="left:770.44px;top:604.81px;font-size:34.43px;font-weight:normal;letter-spacing:4.25px;transform:scaleX(0.8200);color:#ffffff;-webkit-text-stroke:1.1px #ffffff;">蒸发器</div>
<div class="t" style="left:281.93px;top:715.29px;font-size:35.47px;font-weight:normal;letter-spacing:2.79px;transform:scaleX(0.8200);color:#ffffff;-webkit-text-stroke:1.1px #ffffff;">压缩机</div>
<div style="position:absolute;left:0;top:980px;width:1080px;height:12px;background:#000"></div>
<div class="t" style="left:878px;top:964px;font-family:'Liberation Mono',monospace;font-size:24px;color:#00e64a;-webkit-text-stroke:0.6px #00e64a;letter-spacing:-0.2px">www.bjjdwx.com</div>
</body></html>
